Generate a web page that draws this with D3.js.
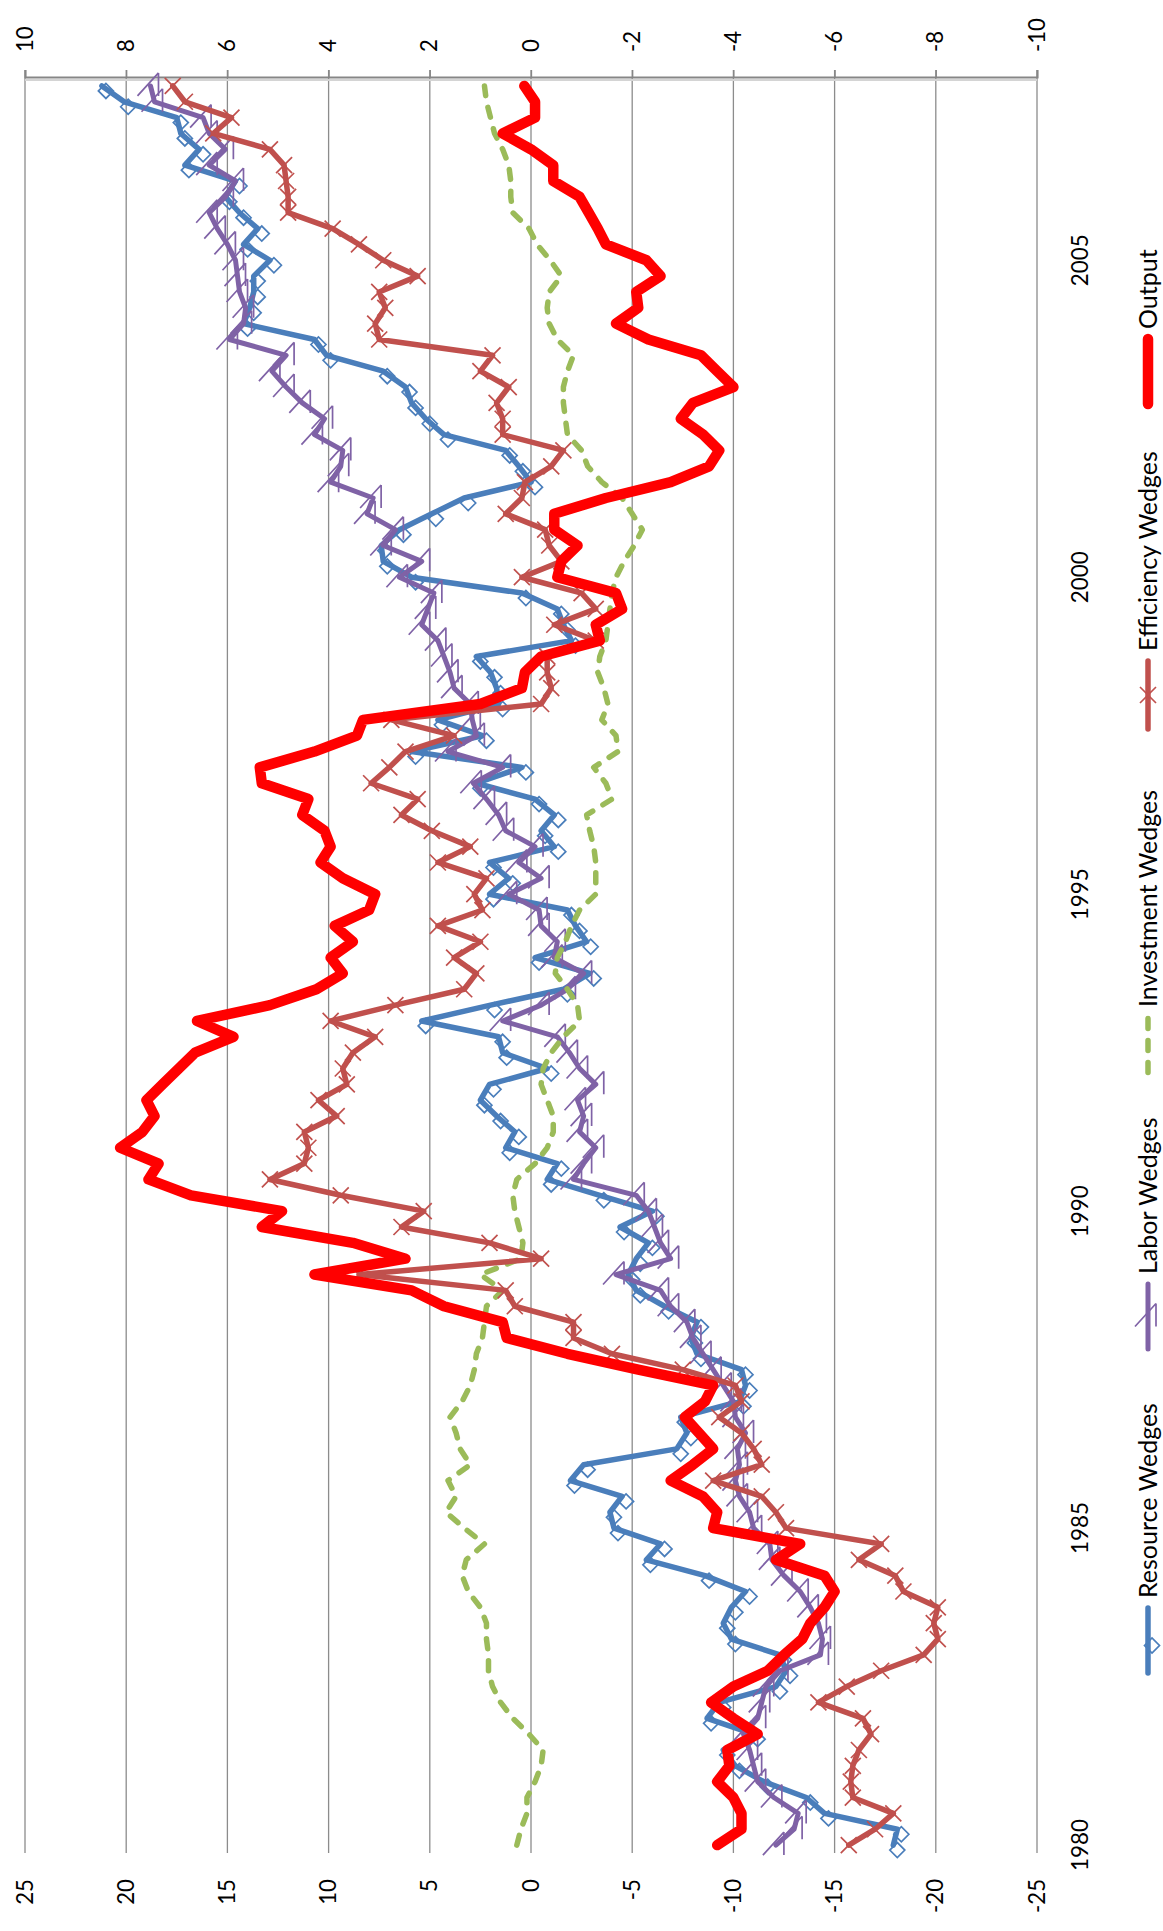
<!DOCTYPE html>
<html>
<head>
<meta charset="utf-8">
<script src="https://cdn.jsdelivr.net/npm/d3@7"></script>
<style>
  html, body { margin: 0; padding: 0; background: #fff; }
  svg { display: block; }
  text { font-family: Lato, "Open Sans", sans-serif; fill: #000; }
</style>
</head>
<body>
<div id="chart"></div>
<script>
(() => {
  // ------- data: quarterly, 1980Q1 .. 2007Q4 -------
  const firstYear = 1980;
  const yearLabels = ["1980", "1985", "1990", "1995", "2000", "2005"];
  const leftTicks = [25, 20, 15, 10, 5, 0, -5, -10, -15, -20, -25];
  const rightTicks = [10, 8, 6, 4, 2, 0, -2, -4, -6, -8, -10];
  const seriesNames = ["Resource Wedges", "Labor Wedges", "Investment Wedges", "Efficiency Wedges", "Output"];

  const resource = [
    -17.9, -18.1, -14.5, -13.6, -11.5, -10.1, -9.5, -11.0, -8.7, -9.3,
    -12.1, -12.6, -12.3, -9.9, -9.5, -9.9, -10.6, -8.6, -5.7, -6.4,
    -4.1, -3.9, -4.5, -1.95, -2.6, -7.2, -7.7, -7.4, -10.3, -10.6,
    -10.4, -8.2, -7.9, -8.2, -6.6, -5.2, -4.8, -5.2, -5.8, -4.4,
    -6.0, -3.4, -0.8, -1.3, 1.25, 0.8, 1.7, 2.5, 2.05, -0.8,
    1.4, 1.6, 5.4, 2.0, -1.6, -2.9, -0.2, -2.75, -2.2, -1.8,
    2.05, 1.1, 2.05, -1.15, -0.5, -1.15, -0.2, 2.7, 0.45, 5.9,
    2.4, 4.6, 1.6, 1.7, 2.0, 2.7, -2.0, -1.6, -1.3, 0.45,
    5.9, 7.3, 7.4, 6.5, 4.9, 3.3, 0.0, 0.6, 1.25, 4.3,
    5.2, 5.9, 6.2, 7.3, 10.1, 10.7, 14.2, 13.9, 13.7, 13.7,
    12.9, 14.2, 13.5, 14.4, 15.1, 14.6, 17.1, 16.4, 17.3, 17.5,
    20.1, 21.2
  ];

  const labor = [
    -12.1, -13.0, -13.2, -12.0, -11.2, -11.0, -10.8, -10.5, -11.2, -11.4,
    -11.6, -12.3, -14.3, -14.4, -14.2, -13.8, -13.3, -12.5, -11.9, -11.8,
    -11.0, -10.8, -10.3, -10.1, -10.3, -10.2, -10.6, -10.1, -10.0, -9.5,
    -9.0, -8.5, -8.0, -7.7, -6.9, -6.4, -4.2, -6.9, -6.4, -6.1,
    -5.8, -5.2, -2.1, -2.6, -3.2, -2.4, -2.6, -2.3, -3.2, -2.4,
    -1.9, -1.3, 1.4, -0.5, -1.8, -2.6, -1.15, -1.3, -0.5, -0.4,
    1.1, -0.5, 0.6, -0.2, 1.25, 1.6, 2.2, 2.85, 1.4, 4.1,
    2.7, 2.9, 3.0, 3.8, 4.0, 4.3, 4.6, 5.4, 5.1, 4.8,
    6.5, 5.4, 7.3, 6.7, 8.1, 7.8, 9.9, 9.4, 9.3, 10.7,
    10.2, 11.3, 12.1, 12.8, 12.1, 14.9, 14.2, 14.1, 14.4, 14.5,
    14.6, 15.0, 15.5, 15.9, 15.1, 14.6, 15.9, 15.1, 15.9, 16.2,
    18.6, 18.8
  ];

  const investment = [
    0.7, 0.5, 0.2, 0.2, -0.2, -0.5, -0.6, 0.1, 0.9, 1.5,
    1.9, 2.1, 2.1, 2.2, 2.2, 2.5, 3.1, 3.4, 3.2, 2.3,
    3.3, 4.2, 3.7, 4.1, 3.0, 3.5, 3.7, 4.0, 3.4, 3.0,
    2.8, 2.7, 2.4, 2.3, 2.2, 1.4, 2.5, 0.5, 0.4, 0.6,
    0.8, 0.9, 0.7, -0.2, -0.8, -1.1, -1.1, -0.8, -0.5, -0.6,
    -1.0, -1.6, -2.4, -2.3, -1.8, -1.2, -1.3, -1.7, -2.0, -2.4,
    -3.2, -3.2, -3.2, -3.1, -2.9, -2.75, -4.0, -3.7, -3.1, -4.3,
    -4.2, -3.5, -3.8, -3.6, -3.3, -3.4, -3.7, -3.8, -3.9, -4.0,
    -4.2, -4.6, -5.1, -5.5, -5.0, -4.5, -3.5, -2.8, -2.5, -1.8,
    -1.7, -1.6, -1.6, -1.8, -2.1, -1.3, -0.9, -0.8, -0.9, -1.5,
    -0.95, -0.3, 0.1, 0.9, 1.0, 1.0, 1.1, 1.4, 1.8, 2.0,
    2.2, 2.3
  ];

  const efficiency = [
    -15.7, -17.0, -17.9, -15.9, -15.8, -15.9, -16.2, -16.8, -16.4, -14.2,
    -15.6, -17.3, -19.4, -20.1, -19.9, -20.1, -18.4, -18.0, -16.2, -17.3,
    -12.6, -12.1, -11.4, -9.0, -11.4, -11.0, -10.4, -9.3, -10.4, -10.1,
    -7.5, -4.0, -2.1, -2.1, 0.8, 1.25, 8.5, -0.5, 2.05, 6.4,
    5.3, 9.4, 12.9, 11.2, 11.0, 11.2, 9.6, 10.5, 9.1, 9.3,
    8.8, 7.7, 9.9, 6.7, 3.3, 2.7, 3.8, 2.5, 4.6, 2.4,
    2.8, 2.2, 4.6, 3.0, 4.9, 6.4, 5.6, 7.9, 7.0, 6.2,
    3.8, 6.9, -0.5, -1.0, -0.8, -0.8, -3.2, -1.15, -3.2, -2.5,
    0.45, -1.5, -0.9, -0.7, 1.25, 0.45, 0.3, -1.0, -1.6, 1.4,
    1.4, 1.7, 1.1, 2.5, 1.9, 7.5, 7.7, 7.2, 7.5, 5.6,
    7.3, 8.5, 9.8, 12.0, 12.0, 12.1, 12.2, 12.9, 15.7, 14.8,
    17.1, 17.7
  ];

  const output = [
    -9.2, -10.4, -10.4, -10.0, -9.2, -9.8, -9.7, -11.2, -10.0, -8.9,
    -10.0, -11.7, -12.5, -13.4, -13.8, -14.5, -15.0, -14.5, -12.1, -13.3,
    -9.0, -9.2, -8.5, -6.9, -8.0, -9.0, -8.3, -7.6, -8.6, -9.0,
    -5.3, -1.8, 1.2, 1.4, 4.3, 5.9, 10.7, 6.2, 8.8, 13.3,
    12.3, 16.8, 18.9, 18.4, 20.3, 19.2, 18.6, 19.0, 18.2, 17.4,
    16.6, 14.7, 16.5, 12.9, 10.6, 9.3, 9.9, 8.8, 9.7, 8.0,
    7.7, 9.3, 10.4, 9.9, 10.2, 11.3, 11.0, 13.3, 13.4, 10.7,
    8.6, 8.3, 2.5, 0.45, 0.3, -0.5, -3.4, -3.2, -4.5, -4.2,
    -1.3, -1.5, -2.3, -1.15, -1.15, -3.7, -6.9, -8.8, -9.3, -8.5,
    -7.4, -8.0, -10.0, -9.2, -8.4, -5.8, -4.2, -5.3, -5.2, -6.4,
    -5.7, -3.7, -3.3, -2.85, -2.4, -1.1, -1.1, 0.0, 1.4, -0.2,
    -0.2, 0.33
  ];

  // ------- layout -------
  const pageW = 1163, pageH = 1931;     // the page; chart is drawn turned a quarter left
  const CW = pageH;                      // unrotated chart width
  const plot = { left: 78, right: 1853, top: 25, bottom: 1037 };

  const svg = d3.select("#chart").append("svg")
    .attr("width", pageW).attr("height", pageH)
    .attr("viewBox", `0 0 ${pageW} ${pageH}`);

  const g = svg.append("g").attr("transform", `translate(0,${CW}) rotate(-90)`);

  const x = d3.scalePoint()
    .domain(d3.range(output.length))
    .range([plot.left, plot.right])
    .padding(0.5);

  const y = d3.scaleLinear().domain([-25, 25]).range([plot.bottom, plot.top]);
  const y2 = d3.scaleLinear().domain([-10, 10]).range([plot.bottom, plot.top]);

  const fitSize = (str, target, base = 20) => {
    const t = g.append("text").style("font-size", base + "px").text(str);
    const w = t.node().getComputedTextLength();
    t.remove();
    return base * target / w;
  };
  const axisSize = fitSize("-25", 34);
  const yearSize = fitSize("1980", 52);
  const legendSize = fitSize("Resource Wedges", 195);

  // gridlines
  g.append("g").selectAll("line")
    .data(leftTicks)
    .join("line")
    .attr("x1", plot.left).attr("x2", plot.right + 8)
    .attr("y1", d => y(d)).attr("y2", d => y(d))
    .attr("stroke", "#8c8c8c").attr("stroke-width", 1.3);

  // left axis (labels only)
  g.append("g")
    .attr("transform", `translate(${plot.left},0)`)
    .call(d3.axisLeft(y).tickValues(leftTicks).tickSize(0).tickPadding(26).tickFormat(d => String(d)))
    .call(a => a.select(".domain").remove())
    .call(a => a.selectAll("text").attr("fill", "#000").style("font-size", axisSize + "px")
      .style("font-family", "Lato, 'Open Sans', sans-serif"));

  // right axis
  g.append("line")
    .attr("x1", plot.right - 2).attr("x2", plot.right - 2)
    .attr("y1", plot.top).attr("y2", plot.bottom)
    .attr("stroke", "#d4d4d4").attr("stroke-width", 2);
  g.append("g")
    .attr("transform", `translate(${plot.right},0)`)
    .call(d3.axisRight(y2).tickValues(rightTicks).tickSize(8).tickPadding(18).tickFormat(d => String(d)))
    .call(a => a.select(".domain").attr("stroke", "#868686").attr("stroke-width", 2))
    .call(a => a.selectAll(".tick line").attr("stroke", "#868686").attr("stroke-width", 1.3))
    .call(a => a.selectAll("text").attr("fill", "#000").style("font-size", axisSize + "px")
      .style("font-family", "Lato, 'Open Sans', sans-serif"));

  // year labels
  g.append("g").selectAll("text")
    .data(yearLabels)
    .join("text")
    .attr("x", d => x((+d - firstYear) * 4))
    .attr("y", 1088)
    .attr("text-anchor", "middle")
    .style("font-size", yearSize + "px")
    .text(d => d);

  // ------- series -------
  const markers = {
    diamond: "M-5,-3.5L2.5,4L-5,11.5L-12.5,4Z",
    bar: "M13,8L-10,8M13,8L-10,-13",
    cross: "M-8,-8L8,8M-8,8L8,-8"
  };

  const series = [
    { name: seriesNames[0], values: resource, color: "#4a7ebb", width: 5.5, marker: "diamond" },
    { name: seriesNames[1], values: labor, color: "#7f62a6", width: 5, marker: "bar" },
    { name: seriesNames[2], values: investment, color: "#9bbb59", width: 5.5, dash: "10 12" },
    { name: seriesNames[3], values: efficiency, color: "#c0504d", width: 5.5, marker: "cross" },
    { name: seriesNames[4], values: output, color: "#ff0000", width: 10.5 }
  ];

  const line = d3.line().x((d, i) => x(i)).y(d => y(d));

  series.forEach(s => {
    const sg = g.append("g");
    sg.append("path")
      .datum(s.values)
      .attr("d", line)
      .attr("fill", "none")
      .attr("stroke", s.color)
      .attr("stroke-width", s.width)
      .attr("stroke-linejoin", "round")
      .attr("stroke-linecap", "round")
      .attr("stroke-dasharray", s.dash || null);
    if (s.marker) {
      sg.selectAll("path.mk")
        .data(s.values)
        .join("path")
        .attr("class", "mk")
        .attr("transform", (d, i) => `translate(${x(i)},${y(d)})`)
        .attr("d", markers[s.marker])
        .attr("fill", "none")
        .attr("stroke", s.color)
        .attr("stroke-width", 1.7);
    }
  });

  // ------- legend -------
  const legendStarts = [258, 582, 858.5, 1202, 1527];
  const legendEnds = [323, 647, 914, 1270, 1592];
  const legendY = 1148;
  const lg = g.append("g");
  series.forEach((s, k) => {
    const x0 = legendStarts[k], x1 = legendEnds[k];
    lg.append("line")
      .attr("x1", x0).attr("x2", x1)
      .attr("y1", legendY).attr("y2", legendY)
      .attr("stroke", s.color)
      .attr("stroke-width", s.width)
      .attr("stroke-linecap", "round")
      .attr("stroke-dasharray", s.dash || null);
    if (s.marker) {
      lg.append("path")
        .attr("transform", `translate(${(x0 + x1) / 2},${legendY})`)
        .attr("d", markers[s.marker])
        .attr("fill", "none")
        .attr("stroke", s.color)
        .attr("stroke-width", 1.7);
    }
    lg.append("text")
      .attr("x", x1 + 10)
      .attr("y", legendY + 9)
      .style("font-size", legendSize + "px")
      .text(s.name);
  });
})();
</script>
</body>
</html>
